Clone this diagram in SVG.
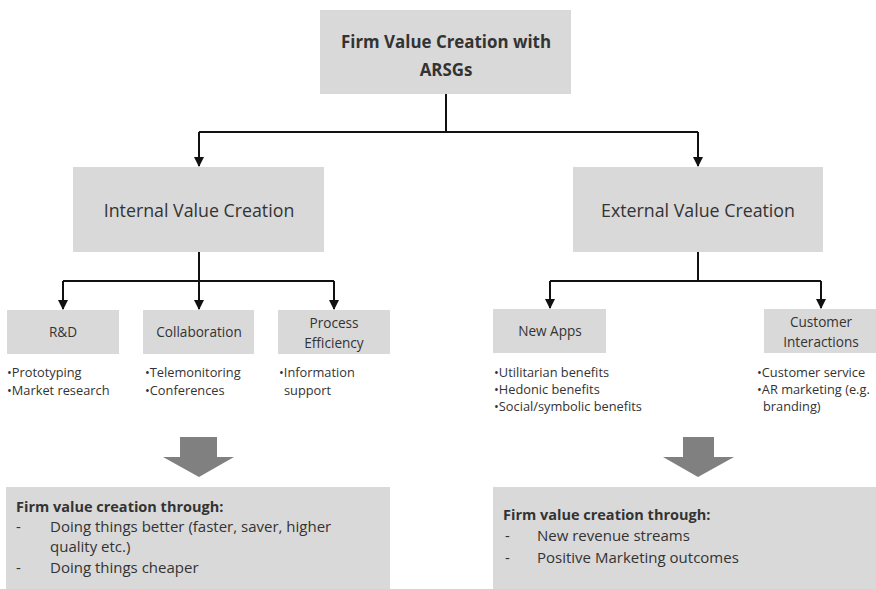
<svg xmlns="http://www.w3.org/2000/svg" width="876" height="589" viewBox="0 0 876 589">
<style>
.box{fill:#d9d9d9}
.t{font-family:"Open Sans","Liberation Sans",sans-serif;fill:#333}
.big{font-size:17.8px}
.ttl{font-size:16.9px}
.mid{font-size:13.6px}
.sm{font-size:12.8px}
.bt{font-size:15px}
.bh{font-size:14.5px}
.b{font-weight:bold}
.c{text-anchor:middle}
.ln{stroke:#111;stroke-width:2;fill:none}
.fat{fill:#808080}
</style>
<defs>
<marker id="ah" viewBox="0 0 10 10" refX="9" refY="5" markerWidth="5" markerHeight="5" orient="auto">
<path d="M0,0 L10,5 L0,10 z" fill="#111"/>
</marker>
</defs>
<rect width="876" height="589" fill="#fff"/>
<g id="connectors">
<path class="ln" d="M446,94 V132"/>
<path class="ln" d="M199,132 H698"/>
<path class="ln" d="M199,132 V166" marker-end="url(#ah)"/>
<path class="ln" d="M698,132 V166" marker-end="url(#ah)"/>
<path class="ln" d="M199,252 V281"/>
<path class="ln" d="M63,281 H334"/>
<path class="ln" d="M63,281 V309" marker-end="url(#ah)"/>
<path class="ln" d="M199,281 V309" marker-end="url(#ah)"/>
<path class="ln" d="M334,281 V309" marker-end="url(#ah)"/>
<path class="ln" d="M698,252 V281"/>
<path class="ln" d="M550,281 H821"/>
<path class="ln" d="M550,281 V308" marker-end="url(#ah)"/>
<path class="ln" d="M821,281 V308" marker-end="url(#ah)"/>
<path class="fat" d="M180,437 H217 V457 H234 L199,477 L163,457 H180 Z"/>
<path class="fat" d="M683,437 H714 V457 H734 L698,477 L663,457 H683 Z"/>
</g>
<g id="top">
<rect class="box" x="320" y="10" width="251" height="84"/>
<text class="t ttl b c" x="446" y="48">Firm Value Creation with</text>
<text class="t ttl b c" x="446" y="76">ARSGs</text>
</g>
<g id="internal">
<rect class="box" x="73" y="167" width="251" height="85"/>
<text class="t big c" x="199" y="217">Internal Value Creation</text>
</g>
<g id="external">
<rect class="box" x="573" y="167" width="250" height="85"/>
<text class="t big c" x="698" y="217">External Value Creation</text>
</g>
<g id="rd">
<rect class="box" x="7" y="310" width="112" height="44"/>
<text class="t mid c" x="63" y="337">R&amp;D</text>
<text class="t sm" x="7" y="377">•Prototyping</text>
<text class="t sm" x="7" y="395">•Market research</text>
</g>
<g id="collab">
<rect class="box" x="143" y="310" width="111" height="44"/>
<text class="t mid c" x="199" y="337">Collaboration</text>
<text class="t sm" x="145" y="377">•Telemonitoring</text>
<text class="t sm" x="145" y="395">•Conferences</text>
</g>
<g id="process">
<rect class="box" x="278" y="310" width="112" height="44"/>
<text class="t mid c" x="334" y="328">Process</text>
<text class="t mid c" x="334" y="348">Efficiency</text>
<text class="t sm" x="279" y="377">•Information</text>
<text class="t sm" x="284" y="395">support</text>
</g>
<g id="newapps">
<rect class="box" x="493" y="309" width="113" height="44"/>
<text class="t mid c" x="550" y="336">New Apps</text>
<text class="t sm" x="494" y="377">•Utilitarian benefits</text>
<text class="t sm" x="494" y="394">•Hedonic benefits</text>
<text class="t sm" x="494" y="411">•Social/symbolic benefits</text>
</g>
<g id="customer">
<rect class="box" x="764" y="309" width="112" height="44"/>
<text class="t mid c" x="821" y="327">Customer</text>
<text class="t mid c" x="821" y="347">Interactions</text>
<text class="t sm" x="757" y="377">•Customer service</text>
<text class="t sm" x="757" y="394">•AR marketing (e.g.</text>
<text class="t sm" x="763" y="411">branding)</text>
</g>
<g id="internal-outcome">
<rect class="box" x="6" y="487" width="384" height="102"/>
<text class="t bh b" x="16" y="512">Firm value creation through:</text>
<text class="t bt" x="16" y="532">-</text>
<text class="t bt" x="50" y="532">Doing things better (faster, saver, higher</text>
<text class="t bt" x="50" y="552">quality etc.)</text>
<text class="t bt" x="16" y="573">-</text>
<text class="t bt" x="50" y="573">Doing things cheaper</text>
</g>
<g id="external-outcome">
<rect class="box" x="493" y="487" width="383" height="102"/>
<text class="t bh b" x="503" y="520">Firm value creation through:</text>
<text class="t bt" x="505" y="541">-</text>
<text class="t bt" x="537" y="541">New revenue streams</text>
<text class="t bt" x="505" y="563">-</text>
<text class="t bt" x="537" y="563">Positive Marketing outcomes</text>
</g>
</svg>
